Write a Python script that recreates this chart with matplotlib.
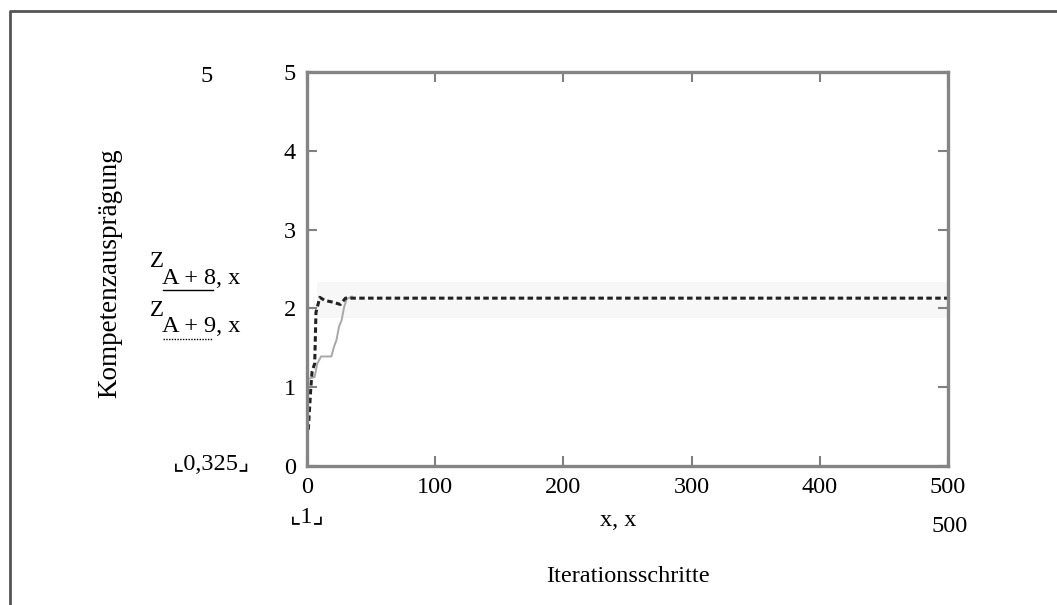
import matplotlib.pyplot as plt
from matplotlib.lines import Line2D

# data
solid_x = [0, 6, 8, 11, 19, 21, 23, 25, 27, 29, 31, 35]
solid_y = [1.1, 1.13, 1.3, 1.39, 1.39, 1.51, 1.6, 1.77, 1.85, 2.02, 2.12, 2.15]
band_x = [8, 500]
band_low = [1.88, 1.88]
band_high = [2.34, 2.34]
dash_x = [1, 3, 4, 6, 7, 10, 14, 20, 26, 30, 500]
dash_y = [0.46, 1.0, 1.2, 1.3, 1.95, 2.14, 2.10, 2.08, 2.05, 2.13, 2.13]
x_ticks = [0, 100, 200, 300, 400, 500]
y_ticks = [0, 1, 2, 3, 4, 5]

W, H = 1057, 605
SERIF = ['Liberation Serif', 'DejaVu Sans']
FS = 17.5


def fx(px):
  return px / W


def fy(py):
  return 1 - py / H


def ftext(px, py, s, **kw):
  kw.setdefault('ha', 'center')
  kw.setdefault('va', 'center')
  kw.setdefault('fontsize', FS)
  fig.text(fx(px), fy(py), s, family=SERIF, **kw)


fig = plt.figure(figsize=(W / 100, H / 100), dpi=100)
ax = fig.add_axes([fx(307), fy(466), fx(948) - fx(307), fy(72) - fy(466)])

# faint jitter of the solid trace after it settles
ax.fill_between(band_x, band_low, band_high, color='#f7f7f7', lw=0)
ax.plot(solid_x, solid_y, color='#a8a8a8', lw=1.4)
ax.plot(dash_x, dash_y, color='#222222', lw=2.2, ls=(0, (1.8, 1.1)))

ax.set_xlim(0, 500)
ax.set_ylim(0, 5)
ax.set_xticks(x_ticks)
ax.set_yticks(y_ticks)
ax.set_xticklabels([str(v) for v in x_ticks], family=SERIF, fontsize=FS)
ax.set_yticklabels([str(v) for v in y_ticks], family=SERIF, fontsize=FS)
ax.tick_params(direction='in', length=7, width=1.5, color='#808080',
               top=True, right=True, pad=8)
for sp in ax.spines.values():
  sp.set_color('#858585')
  sp.set_linewidth(2.4)

# outer frame (top and left only)
fig.add_artist(Line2D([fx(10), fx(10), fx(1057)], [fy(605), fy(11), fy(11)],
                      color='#555555', lw=2))

ftext(207, 76, '5')
ftext(250, 464, '\u231e0,325\u231f', ha='right')
ftext(307, 517, '\u231e1\u231f')
ftext(618, 521, 'x, x')
ftext(950, 527, '500')
ftext(628, 577, 'Iterationsschritte')
ftext(110, 273, 'Kompetenzausprägung', rotation=90, fontsize=19.5)

# trace legend in the Mathcad style
ftext(150, 261, 'Z', ha='left', fontsize=16.5)
ftext(162, 278, 'A + 8, x', ha='left')
fig.add_artist(Line2D([fx(163), fx(213)], [fy(290), fy(290)], color='black', lw=1))
ftext(150, 311, 'Z', ha='left', fontsize=16.5)
ftext(162, 327, 'A + 9, x', ha='left')
fig.add_artist(Line2D([fx(163), fx(213)], [fy(339), fy(339)], color='black',
                      lw=1, ls=(0, (1, 1))))

fig.savefig('out.png', dpi=100)
